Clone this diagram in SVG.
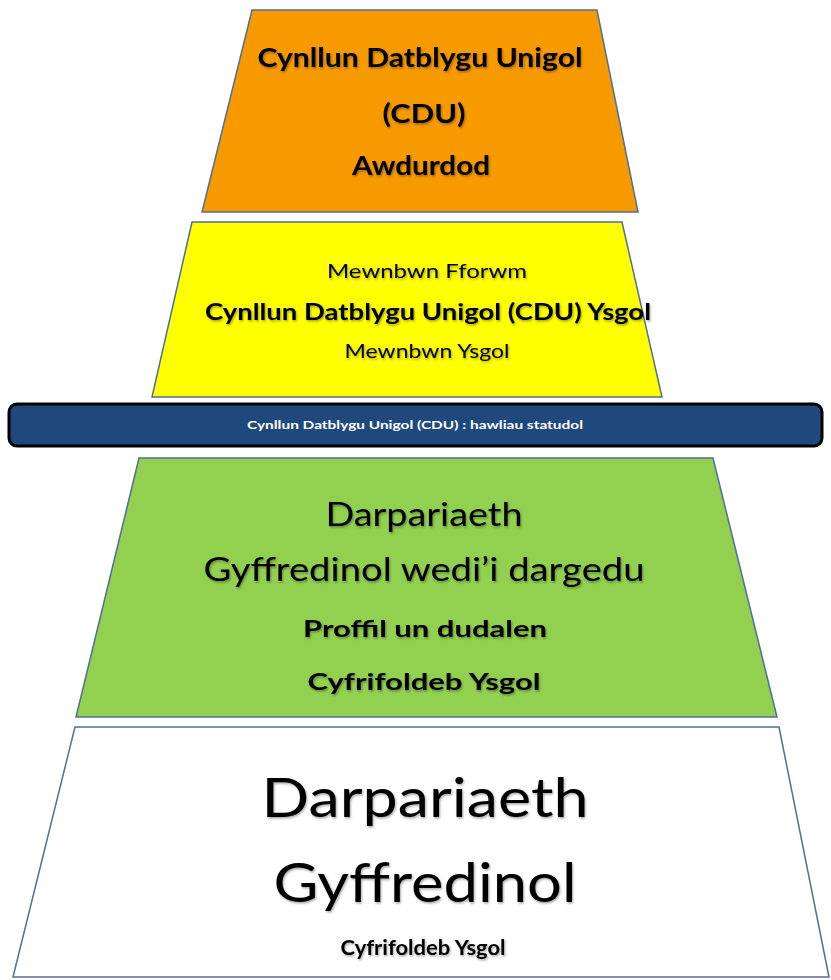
<svg xmlns="http://www.w3.org/2000/svg" width="831" height="980" viewBox="0 0 831 980">
<defs>
<filter id="sh" x="-10%" y="-30%" width="120%" height="160%">
<feDropShadow dx="1" dy="1.5" stdDeviation="1.2" flood-color="#000" flood-opacity="0.35"/>
</filter>
<style>
.t{font-family:Lato,"Open Sans","Liberation Sans",sans-serif;fill:#000;text-anchor:middle;filter:url(#sh)}
.b{font-weight:bold}
.trap{stroke:#4f6f96;stroke-width:1.5}
</style>
</defs>
<rect width="831" height="980" fill="#fff"/>
<g id="node-orange">
<polygon class="trap" points="252,10 597,10 638,212 202,212" fill="#f79a00"/>
<text class="t b" x="420" y="67" font-size="27" textLength="325" lengthAdjust="spacingAndGlyphs">Cynllun Datblygu Unigol</text>
<text class="t b" x="424" y="123" font-size="27" textLength="83" lengthAdjust="spacingAndGlyphs">(CDU)</text>
<text class="t b" x="421" y="175" font-size="27" textLength="138" lengthAdjust="spacingAndGlyphs">Awdurdod</text>
</g>
<g id="node-yellow">
<polygon class="trap" points="192,222 622,222 662,397 152,397" fill="#ffff00"/>
<text class="t" x="427" y="278" font-size="19" textLength="200" lengthAdjust="spacingAndGlyphs">Mewnbwn Fforwm</text>
<text class="t b" x="428" y="320" font-size="22.5" textLength="446" lengthAdjust="spacingAndGlyphs">Cynllun Datblygu Unigol (CDU) Ysgol</text>
<text class="t" x="427" y="358" font-size="19" textLength="165" lengthAdjust="spacingAndGlyphs">Mewnbwn Ysgol</text>
</g>
<g id="node-bar">
<rect x="9" y="404" width="813" height="42" rx="8" fill="#1f497d" stroke="#000" stroke-width="3"/>
<text x="415" y="429" font-size="12" font-weight="bold" font-family="Lato,'Open Sans','Liberation Sans',sans-serif" fill="#fff" text-anchor="middle" textLength="336" lengthAdjust="spacingAndGlyphs">Cynllun Datblygu Unigol (CDU) : hawliau statudol</text>
</g>
<g id="node-green">
<polygon class="trap" points="139,458 713,458 777,717 76,717" fill="#92d050"/>
<text class="t" x="424" y="526" font-size="33" textLength="197" lengthAdjust="spacingAndGlyphs">Darpariaeth</text>
<text class="t" x="424" y="581" font-size="33" textLength="441" lengthAdjust="spacingAndGlyphs">Gyffredinol wedi’i dargedu</text>
<text class="t b" x="425" y="637" font-size="23" textLength="244" lengthAdjust="spacingAndGlyphs">Proffil un dudalen</text>
<text class="t b" x="424" y="690" font-size="23" textLength="233" lengthAdjust="spacingAndGlyphs">Cyfrifoldeb Ysgol</text>
</g>
<g id="node-white">
<polygon class="trap" points="75,727 779,727 829,977 13,977" fill="#fff" stroke="#4f81bd"/>
<text class="t" x="425" y="817" font-size="55" textLength="327" lengthAdjust="spacingAndGlyphs">Darpariaeth</text>
<text class="t" x="425" y="902" font-size="55" textLength="303" lengthAdjust="spacingAndGlyphs">Gyffredinol</text>
<text class="t b" x="423" y="955" font-size="21" textLength="165" lengthAdjust="spacingAndGlyphs">Cyfrifoldeb Ysgol</text>
</g>
<g id="connectors"/>
</svg>
